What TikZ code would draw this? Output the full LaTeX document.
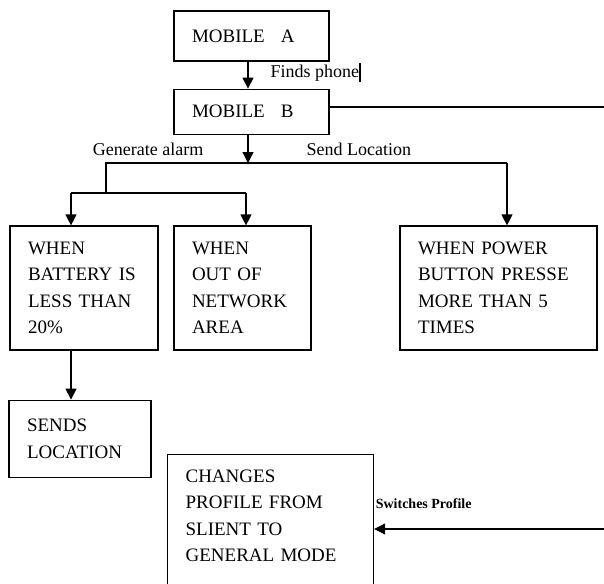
\documentclass[tikz,border=0pt]{standalone}
\usepackage{fontspec}
\setmainfont{Liberation Serif}
\usetikzlibrary{arrows.meta,positioning}

\begin{document}
\begin{tikzpicture}[
    x=1pt, y=-1pt,
    >={Triangle[width=11pt,length=11pt]},
    line width=1.2pt,
    font=\fontsize{19}{26.5}\selectfont,
    block/.style={
		rectangle,
		draw=black,
		align=left,
		inner xsep=18pt,
		inner ysep=0pt,
		fill=white
	},
	lbl/.style={
		inner sep=0pt,
		font=\fontsize{18}{20}\selectfont
	}
  ]
  \useasboundingbox (0,0) rectangle (604,583);
  \clip (0,0) rectangle (604,583);

    % We start by placing the blocks
  \node [block, text width=119pt, minimum height=50pt] (mobA) at (251.5,36)
 {MOBILE\hspace{16pt}A};

  \node [block, text width=119pt, minimum height=45pt, below=27pt of mobA] (mobB)
 {MOBILE\hspace{16pt}B};

  \node [block, text width=112pt, minimum height=124pt] (battery) at (84,288)
 {WHEN\\BATTERY IS\\LESS THAN\\20\%};

  \node [block, text width=101pt, minimum height=124pt] (network) at (242.5,288)
 {WHEN\\OUT OF\\NETWORK\\AREA};

  \node [block, text width=161pt, minimum height=124pt] (power) at (498.5,288)
 {WHEN POWER\\BUTTON PRESSE\\MORE THAN 5\\TIMES};

  \node [block, text width=106pt, minimum height=77pt,
         below right=49pt and -1pt of battery.south west] (sends)
 {SENDS\\LOCATION};

  \node [block, text width=170pt, inner ysep=15pt, text depth=120pt,
         anchor=north west] (changes) at (167,454)
 {CHANGES\\PROFILE FROM\\SLIENT TO\\GENERAL MODE};

  % points where the lines turn
  \coordinate (split) at (248,163);
  \coordinate (splitL) at (106,163);
  \coordinate (splitR) at (507,163);
  \coordinate (alarmL) at (71,193);
  \coordinate (alarmR) at (246,193);
  \coordinate (edgeB) at (604,107);
  \coordinate (edgeC) at (604,529);

  \draw [->] ([xshift=-3.5pt]mobA.south) -- node [lbl, anchor=base west, xshift=22pt, yshift=-2.5pt] {Finds phone\rule[-4pt]{2pt}{19pt}} ([xshift=-3.5pt]mobB.north);
  \draw (edgeB -| mobB.east) -- (edgeB);
  \draw [->] ([xshift=-3.5pt]mobB.south) -- node [lbl, anchor=base east, xshift=-44pt, yshift=-7pt] {Generate alarm}
    node [lbl, anchor=base west, xshift=58pt, yshift=-7pt] {Send Location} (split);
  \draw (splitR) -- (splitL) -- (splitL |- alarmL);
  \draw (alarmL) -- (alarmR);
  \draw [->] (splitR) -- (splitR |- power.north);
  \draw [->] (alarmL) -- (alarmL |- battery.north);
  \draw [->] (alarmR) -- (alarmR |- network.north);
  \draw [->] (alarmL |- battery.south) -- (alarmL |- sends.north);
  \draw [->] (edgeC) -- node [lbl, pos=1, anchor=base west, xshift=1pt, yshift=21pt, font=\bfseries\fontsize{14}{16}\selectfont] {Switches Profile} (edgeC -| changes.east);

\end{tikzpicture}
\end{document}
